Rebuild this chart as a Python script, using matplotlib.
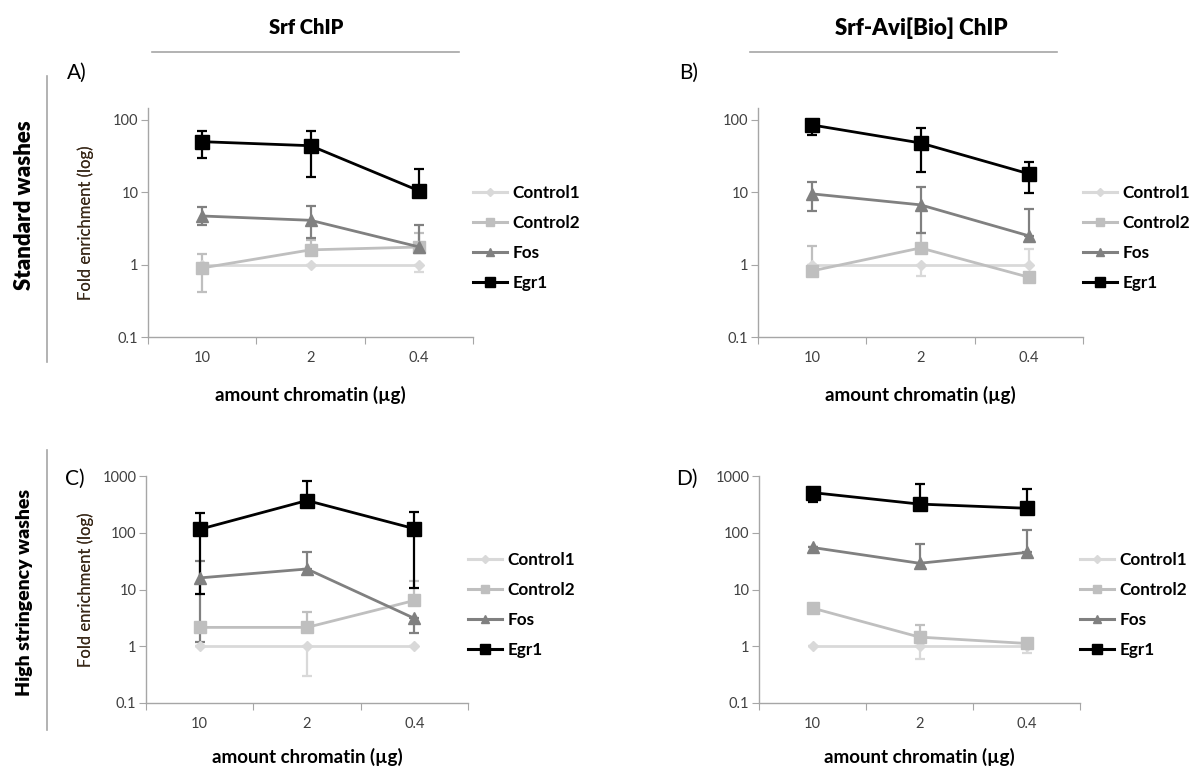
import matplotlib
matplotlib.use("Agg")
import matplotlib.pyplot as plt
from matplotlib.lines import Line2D
import numpy as np

plt.rcParams['font.family'] = ['Lato', 'DejaVu Sans']

categories = ["10", "2", "0.4"]
series_names = ["Control1", "Control2", "Fos", "Egr1"]

# Panel A: Srf ChIP, standard washes
A_vals = {"Control1": [1, 1, 1], "Control2": [0.9, 1.6, 1.75], "Fos": [4.7, 4.1, 1.76], "Egr1": [50, 44, 10.5]}
A_up = {"Control1": [1, 1, 1], "Control2": [1.4, 2.2, 2.75], "Fos": [6.3, 6.5, 3.5], "Egr1": [71, 71, 21]}
A_lo = {"Control1": [1, 1, 0.8], "Control2": [0.42, 1.6, 1.75], "Fos": [3.5, 2.3, 1.76], "Egr1": [30, 16, 10.5]}

# Panel B: Srf-Avi[Bio] ChIP, standard washes
B_vals = {"Control1": [1, 1, 1], "Control2": [0.82, 1.7, 0.67], "Fos": [9.5, 6.7, 2.5], "Egr1": [85, 48, 18]}
B_up = {"Control1": [1, 1, 1.65], "Control2": [1.8, 2.7, 0.67], "Fos": [14, 12, 5.8], "Egr1": [100, 78, 26]}
B_lo = {"Control1": [1, 0.7, 1], "Control2": [0.82, 1.7, 0.67], "Fos": [5.5, 2.7, 2.5], "Egr1": [62, 19, 9.8]}

# Panel C: Srf ChIP, high stringency washes
C_vals = {"Control1": [1, 1, 1], "Control2": [2.15, 2.15, 6.4], "Fos": [16, 23, 3.1], "Egr1": [115, 370, 118]}
C_up = {"Control1": [1, 1, 1], "Control2": [2.15, 4, 14], "Fos": [32, 46, 3.1], "Egr1": [225, 800, 230]}
C_lo = {"Control1": [1, 0.3, 1], "Control2": [2.15, 2.15, 6.4], "Fos": [1.2, 23, 1.7], "Egr1": [8.5, 370, 10.8]}

# Panel D: Srf-Avi[Bio] ChIP, high stringency washes
D_vals = {"Control1": [1, 1, 1], "Control2": [4.7, 1.45, 1.12], "Fos": [55, 29, 45], "Egr1": [510, 320, 270]}
D_up = {"Control1": [1, 1, 1], "Control2": [4.7, 2.4, 1.3], "Fos": [55, 63, 110], "Egr1": [510, 710, 600]}
D_lo = {"Control1": [1, 0.59, 0.75], "Control2": [4.7, 1.45, 1.12], "Fos": [55, 29, 45], "Egr1": [355, 320, 270]}

styles = {
    "Control1": dict(color="#d9d9d9", marker="D", ms=5, lms=4),
    "Control2": dict(color="#bfbfbf", marker="s", ms=8, lms=6),
    "Fos": dict(color="#808080", marker="^", ms=8, lms=6),
    "Egr1": dict(color="#000000", marker="s", ms=10, lms=7.5),
}

W, H = 1195, 767
fig = plt.figure(figsize=(W / 100, H / 100), dpi=100)


def fx(px):
    return px / W


def fy(py):
    return 1 - py / H


def make_panel(left, right, top, bottom, vals, up, lo, ylim, yticks, yticklabels, label, label_xy,
               xlab_y, leg_y):
    ax = fig.add_axes([fx(left), fy(bottom), fx(right - left), (bottom - top) / H])
    x = np.arange(len(categories)) + 0.5
    handles = []
    for name in series_names:
        v = np.array(vals[name], dtype=float)
        u = np.array(up[name], dtype=float)
        l = np.array(lo[name], dtype=float)
        st = styles[name]
        ax.errorbar(x, v, yerr=[v - l, u - v], color=st["color"], marker=st["marker"],
                    ms=st["ms"], lw=2, elinewidth=1.6, capsize=3.5, capthick=1.6,
                    mec=st["color"], mfc=st["color"], zorder=3)
        handles.append(Line2D([], [], color=st["color"], marker=st["marker"], ms=st["lms"],
                              lw=2.2, mec=st["color"], mfc=st["color"], label=name))
    ax.set_yscale("log")
    ax.set_ylim(*ylim)
    ax.set_xlim(0, 3)
    ax.set_yticks(yticks)
    ax.set_yticklabels(yticklabels)
    ax.yaxis.set_minor_locator(matplotlib.ticker.NullLocator())
    ax.set_xticks([0, 1, 2, 3])
    ax.set_xticklabels([])
    ax.set_xticks(x, minor=True)
    ax.set_xticklabels(categories, minor=True)
    ax.tick_params(axis="x", which="minor", length=0, pad=10, labelsize=10.5, labelcolor="#404040")
    ax.tick_params(axis="x", which="major", length=5, direction="out", color="#a6a6a6")
    ax.tick_params(axis="y", which="major", length=5, direction="out", color="#a6a6a6",
                   labelsize=10.5, labelcolor="#404040", pad=2)
    for s in ["top", "right"]:
        ax.spines[s].set_visible(False)
    for s in ["left", "bottom"]:
        ax.spines[s].set_color("#a6a6a6")
        ax.spines[s].set_linewidth(1.0)
    ax.set_ylabel("Fold enrichment (log)", fontsize=12, color="#3a2a1a")
    ax.yaxis.set_label_coords((86 - left) / (right - left), 0.5)
    ax.yaxis.label.set_va("center")
    ax.set_xlabel("amount chromatin (µg)", fontsize=13.5, fontweight="bold")
    ax.xaxis.set_label_coords(0.5, -(xlab_y - bottom) / (bottom - top))
    ax.xaxis.label.set_va("center")
    fig.legend(handles=handles, loc="center left",
               bbox_to_anchor=(fx(right), fy(leg_y)),
               frameon=False, handlelength=2.0, handletextpad=0.3, labelspacing=0.82,
               borderaxespad=0, borderpad=0, prop={"weight": "bold", "size": 12.3})
    fig.text(fx(label_xy[0]), fy(label_xy[1]), label, fontsize=15, ha="left", va="center")
    return ax


make_panel(148, 473, 108, 337, A_vals, A_up, A_lo, (0.1, 146), [0.1, 1, 10, 100],
           ["0.1", "1", "10", "100"], "A)", (67, 73), 395, 238)
make_panel(758, 1083, 108, 337, B_vals, B_up, B_lo, (0.1, 146), [0.1, 1, 10, 100],
           ["0.1", "1", "10", "100"], "B)", (679, 73), 395, 238)
make_panel(146, 468, 476, 703, C_vals, C_up, C_lo, (0.1, 1000), [0.1, 1, 10, 100, 1000],
           ["0.1", "1", "10", "100", "1000"], "C)", (65, 479), 757, 605)
make_panel(759, 1080, 476, 703, D_vals, D_up, D_lo, (0.1, 1000), [0.1, 1, 10, 100, 1000],
           ["0.1", "1", "10", "100", "1000"], "D)", (676, 479), 757, 605)

# column headers
fig.text(fx(306), fy(28), "Srf ChIP", fontsize=14.5, fontweight="heavy", ha="center", va="center")
fig.text(fx(921), fy(28), "Srf-Avi[Bio] ChIP", fontsize=16, fontweight="heavy", ha="center", va="center")
fig.add_artist(Line2D([fx(152), fx(459)], [fy(52), fy(52)], color="#a6a6a6", lw=1.2))
fig.add_artist(Line2D([fx(750), fx(1057)], [fy(52), fy(52)], color="#a6a6a6", lw=1.2))

# row headers
fig.text(fx(25), fy(205), "Standard washes", fontsize=16, fontweight="heavy", rotation=90,
         ha="center", va="center")
fig.text(fx(25), fy(593), "High stringency washes", fontsize=14, fontweight="heavy", rotation=90,
         ha="center", va="center")
fig.add_artist(Line2D([fx(47), fx(47)], [fy(76), fy(362)], color="#a6a6a6", lw=1.2))
fig.add_artist(Line2D([fx(47), fx(47)], [fy(450), fy(730)], color="#a6a6a6", lw=1.2))

fig.savefig("out.png", dpi=100)
